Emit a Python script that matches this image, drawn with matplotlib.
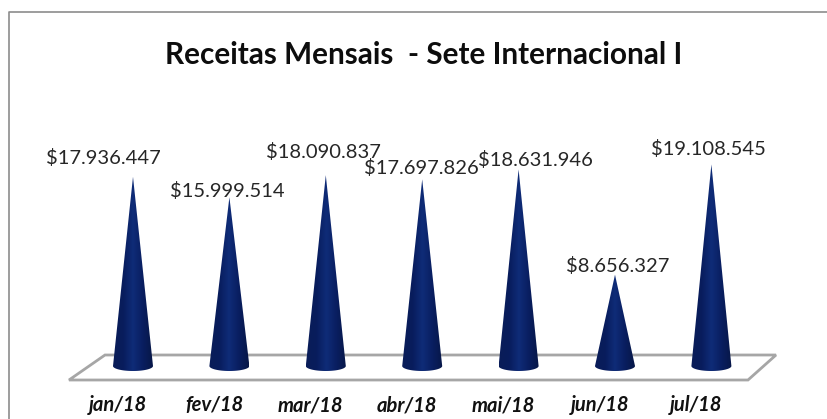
import matplotlib
matplotlib.use("Agg")
import matplotlib.pyplot as plt
import numpy as np
from matplotlib.colors import LinearSegmentedColormap
from matplotlib.lines import Line2D
from matplotlib.patches import Polygon

months = ["jan/18", "fev/18", "mar/18", "abr/18", "mai/18", "jun/18", "jul/18"]
receitas = [17936447, 15999514, 18090837, 17697826, 18631946, 8656327, 19108545]
rotulos = ["$17.936.447", "$15.999.514", "$18.090.837", "$17.697.826",
           "$18.631.946", "$8.656.327", "$19.108.545"]

# label offset from the cone tip, pixels
label_dx = [-30, -2, -2, -1, 17, 3, -3]
label_dy = [19, 6, 23, 11, 9, 9, 15]

W, H = 827, 419
x0 = 133.0     # pixel of first category
dx = 96.4      # pixels between categories
y0 = 366.0     # pixel of zero
py = 10.55e-6  # pixels per unit

fig = plt.figure(figsize=(W / 100, H / 100), dpi=100)
ax = fig.add_axes([0, 0, 1, 1])
ax.set_xlim((0 - x0) / dx, (W - x0) / dx)
ax.set_ylim((y0 - H) / py, y0 / py)
ax.axis("off")

# helpers to go from pixel sizes to data sizes
def X(px):
    return (px - x0) / dx

def Y(px):
    return (y0 - px) / py

# chart border
fig.add_artist(Line2D([9 / W, 9 / W, 1], [0, 1 - 12.5 / H, 1 - 12.5 / H],
                      color="#8c8c8c", lw=1.2))

# floor
floor = Polygon([(X(69), Y(380)), (X(105), Y(355)), (X(776), Y(355)), (X(748), Y(380))],
                closed=True, fc="white", ec="#a6a6a6", lw=2, zorder=1)
ax.add_patch(floor)

cmap = LinearSegmentedColormap.from_list(
    "cone", ["#0a1d58", "#081c5c", "#0f2c78", "#091e60", "#071747"])
grad = np.linspace(0, 1, 128).reshape(1, -1)

half_w = 20 / dx
half_h = 5 / py
t = np.linspace(np.pi, 2 * np.pi, 40)

for i, v in enumerate(receitas):
    xs = i + half_w * np.cos(t)
    ys = half_h * np.sin(t)
    pts = np.column_stack([np.r_[xs, i], np.r_[ys, v]])
    im = ax.imshow(grad, cmap=cmap, aspect="auto", zorder=2,
                   extent=(i - half_w, i + half_w, -half_h, v), interpolation="bilinear")
    clip = Polygon(pts, closed=True, transform=ax.transData, fc="none", ec="none")
    ax.add_patch(clip)
    im.set_clip_path(clip)

    ax.annotate(rotulos[i], xy=(i, v), xytext=(label_dx[i] * 0.72, label_dy[i] * 0.72),
                textcoords="offset points", ha="center", va="center",
                fontsize=14.5, color="#262626", family="Lato", zorder=3)

    ax.text(X(x0 + i * dx - 15), Y(405), months[i], ha="center", va="center",
            fontsize=14.5, color="#111111", family="Lato",
            fontweight="bold", style="italic", zorder=3)

# restore limits changed by imshow
ax.set_xlim((0 - x0) / dx, (W - x0) / dx)
ax.set_ylim((y0 - H) / py, y0 / py)

ax.text(X(424), Y(55), "Receitas Mensais  - Sete Internacional I", ha="center", va="center",
        fontsize=21.4, fontweight="bold", color="#0d0d0d", family="Lato")

fig.savefig("out.png", dpi=100)
